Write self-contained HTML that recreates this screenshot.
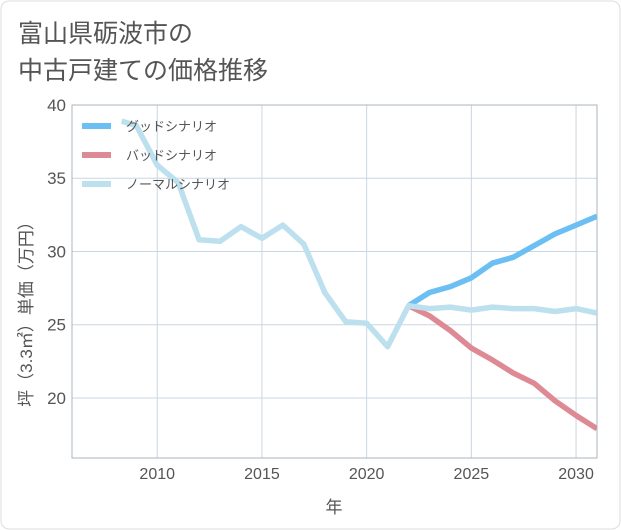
<!DOCTYPE html>
<html><head><meta charset="utf-8"><style>
body{margin:0;background:#fff;}
svg{display:block;font-family:"Liberation Sans","Noto Sans CJK JP",sans-serif;}
</style></head><body>
<svg id="chart" width="621" height="530">
<rect x="1" y="1" width="619" height="528" rx="8" fill="#fff" stroke="#ddd"/>
<text x="18" y="42" font-size="25" fill="#555">富山県砺波市の</text>
<text x="18" y="79" font-size="25" fill="#555">中古戸建ての価格推移</text>
<g id="grid"></g>
<g id="axes"></g>
<g id="series"></g>
<g id="legend"></g>
</svg>
<script>
const histYears=[2008.3,2009,2010,2011,2012,2013,2014,2015,2016,2017,2018,2019,2020,2021,2022];
const histValues=[38.9,38.6,35.9,34.7,30.8,30.7,31.7,30.9,31.8,30.5,27.2,25.2,25.1,23.5,26.3];
const futYears=[2022,2023,2024,2025,2026,2027,2028,2029,2030,2031];
const goodValues=[26.3,27.2,27.6,28.2,29.2,29.6,30.4,31.2,31.8,32.4];
const badValues=[26.3,25.6,24.6,23.4,22.6,21.7,21.0,19.8,18.8,17.9];
const normalFuture=[26.3,26.1,26.2,26.0,26.2,26.1,26.1,25.9,26.1,25.8];
const xTicks=[2010,2015,2020,2025,2030];
const yTicks=[20,25,30,35,40];

const L=72,R=597,T=105,B=458;
const X0=2005.93,X1=2031,Y0=15.9,Y1=40;
const sx=v=>L+(v-X0)/(X1-X0)*(R-L);
const sy=v=>B-(v-Y0)/(Y1-Y0)*(B-T);
const NS="http://www.w3.org/2000/svg";
function mk(tag,attrs,parent){const e=document.createElementNS(NS,tag);for(const k in attrs)e.setAttribute(k,attrs[k]);parent.appendChild(e);return e;}
const grid=document.getElementById('grid'),axes=document.getElementById('axes'),series=document.getElementById('series'),legend=document.getElementById('legend');

xTicks.forEach(t=>{
 const l=mk('line',{x1:sx(t),x2:sx(t),y1:T,y2:B,stroke:'#c9d6e3','stroke-width':1},grid);
 
 
 const tx=mk('text',{x:sx(t),y:479,'text-anchor':'middle','font-size':16,fill:'#555'},axes);
 tx.textContent=t;
 
 
});
yTicks.forEach(t=>{
 const l=mk('line',{x1:L,x2:R,y1:sy(t),y2:sy(t),stroke:'#c9d6e3','stroke-width':1},grid);
 
 
 const tx=mk('text',{x:66,y:sy(t)+6,'text-anchor':'end','font-size':17,fill:'#555'},axes);
 tx.textContent=t;
 
 
});
const frame=mk('rect',{x:L,y:T,width:R-L,height:B-T,fill:'none',stroke:'#aab4be','stroke-width':1},axes);


const xt=mk('text',{x:334,y:513,'text-anchor':'middle','font-size':17,fill:'#555'},axes);
xt.textContent='年';


const yt=mk('text',{x:0,y:0,'text-anchor':'middle','font-size':17,fill:'#555',transform:'translate(32,310) rotate(-90)'},axes);
yt.textContent='坪（3.3㎡）単価（万円）';



function path(xs,ys){return xs.map((x,i)=>(i?'L':'M')+sx(x).toFixed(1)+','+sy(ys[i]).toFixed(1)).join(' ');}
const clip=mk('clipPath',{id:'pc'},series);mk('rect',{x:L,y:T,width:R-L,height:B-T},clip);
const g=mk('g',{'clip-path':'url(#pc)'},series);
const p1=mk('path',{d:path(futYears,goodValues),fill:'none',stroke:'#6bbff2','stroke-width':5.5,'stroke-linejoin':'round'},g);


const p2=mk('path',{d:path(futYears,badValues),fill:'none',stroke:'#de8a94','stroke-width':5.5,'stroke-linejoin':'round'},g);


const p3=mk('path',{d:path(histYears,histValues)+' '+path(futYears,normalFuture).replace('M','L'),fill:'none',stroke:'#bde0ee','stroke-width':5.5,'stroke-linejoin':'round'},g);



const leg=[['グッドシナリオ','#6bbff2','legend-good'],['バッドシナリオ','#de8a94','legend-bad'],['ノーマルシナリオ','#bde0ee','legend-normal']];
leg.forEach((d,i)=>{
 const y=126+i*29;
 const item=mk('g',{},legend);
 
 
 mk('line',{x1:82,x2:111,y1:y,y2:y,stroke:d[1],'stroke-width':6},item);
 const t=mk('text',{x:126,y:y+5,'font-size':13,fill:'#555'},item);
 t.textContent=d[0];
});
</script>
</body></html>
